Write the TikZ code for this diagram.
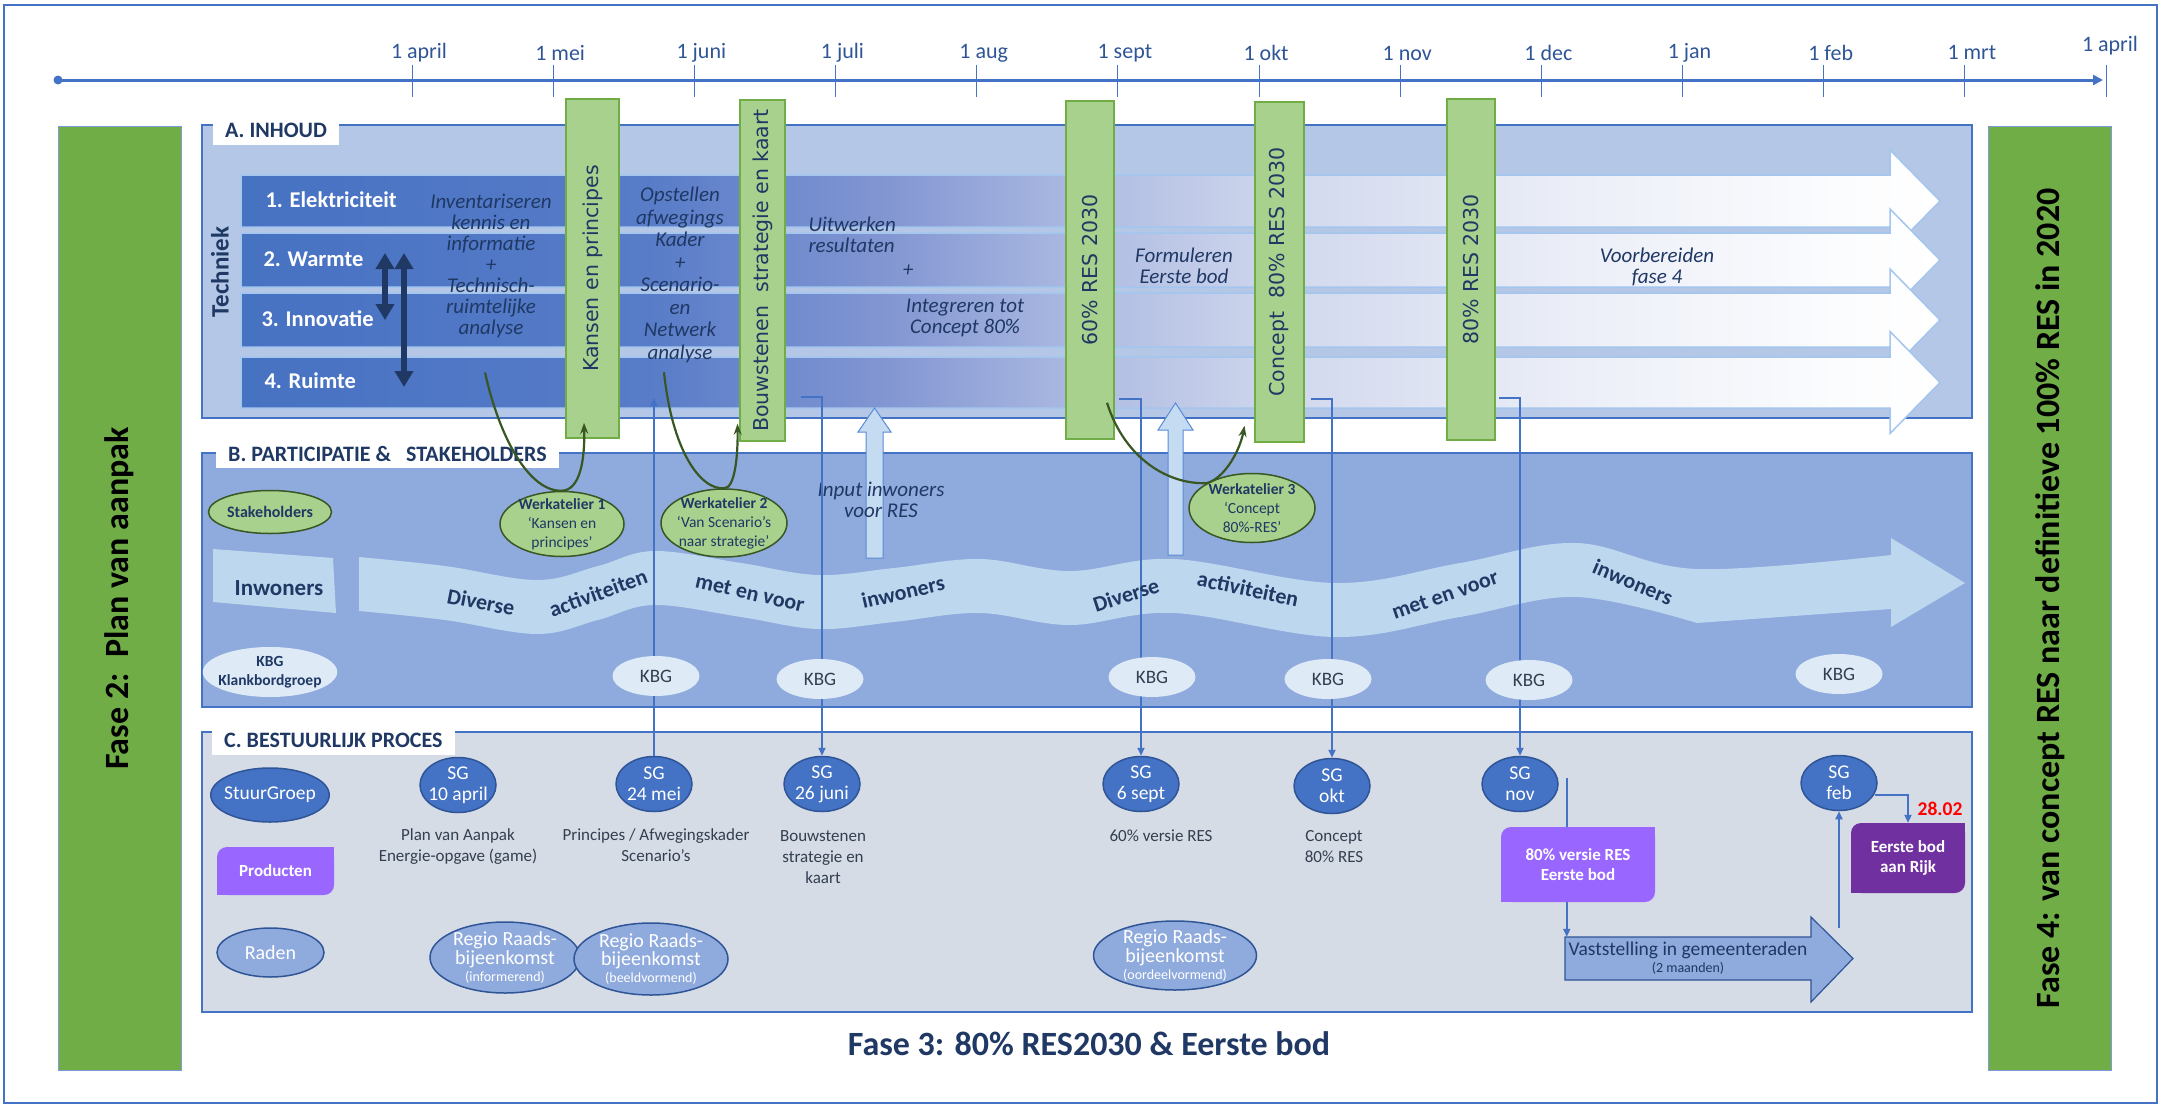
\documentclass[tikz,border=0pt]{standalone}
\usepackage{fontspec}
\setmainfont{Carlito}
\newfontfamily\verdana{DejaVu Sans}
\usetikzlibrary{positioning,shapes.geometric,arrows.meta,calc}

\definecolor{frameblue}{HTML}{4472C4}
\definecolor{edgeblue}{HTML}{2F5597}
\definecolor{navy}{HTML}{1F3864}
\definecolor{inhoudfill}{HTML}{B4C7E7}
\definecolor{partfill}{HTML}{8FAADC}
\definecolor{procfill}{HTML}{D6DCE5}
\definecolor{fasegreen}{HTML}{70AD47}
\definecolor{lightgreen}{HTML}{A9D18E}
\definecolor{darkgreen}{HTML}{385723}
\definecolor{wavefill}{HTML}{BDD7EE}
\definecolor{kbgfill}{HTML}{DEEBF7}
\definecolor{lilac}{HTML}{9966FF}
\definecolor{deeppurple}{HTML}{7030A0}
\definecolor{slate}{HTML}{333F50}
\definecolor{rowedge}{HTML}{A4C6EE}
\definecolor{rowA}{HTML}{4672C2}
\definecolor{rowB}{HTML}{587CC8}
\definecolor{rowC}{HTML}{8296D2}
\definecolor{rowD}{HTML}{AFBCE2}
\definecolor{rowE}{HTML}{D2D9EE}
\definecolor{rowF}{HTML}{EBEEF7}
\definecolor{rowG}{HTML}{FBFCFE}
\definecolor{hollowedge}{HTML}{5B8BD6}
\definecolor{hollowfill}{HTML}{C5DBF2}

\pgfdeclarehorizontalshading{rowshade}{100bp}{color(0bp)=(rowA); color(25bp)=(rowA); color(37bp)=(rowB); color(44bp)=(rowC); color(50bp)=(rowD); color(56bp)=(rowE); color(64bp)=(rowF); color(72bp)=(rowG); color(75bp)=(white); color(100bp)=(white)}

\begin{document}
\begin{tikzpicture}[x=1pt, y=-1pt,
    secbox/.style={draw=frameblue, line width=1.5},
    seclabel/.style={fill=white, text=navy, font=\fontsize{22}{26}\selectfont\bfseries, inner xsep=12pt, inner ysep=3pt, minimum height=29pt, anchor=north west},
    fasebar/.style={fill=fasegreen, draw=frameblue!70, line width=1, font=\fontsize{34}{40}\selectfont\bfseries, rotate=90, minimum width=944pt, minimum height=123pt},
    monthlabel/.style={text=edgeblue, font=\fontsize{22}{24}\selectfont},
    tick/.style={draw=frameblue, line width=0.9},
    rowbar/.style={shading=rowshade, draw=rowedge, line width=1.5},
    rowlabel/.style={text=white, font=\fontsize{22.5}{24}\selectfont\bfseries, anchor=west},
    dblarrow/.style={draw=navy, line width=5.5, {Triangle[width=18pt,length=16pt]}-{Triangle[width=18pt,length=16pt]}},
    italnote/.style={text=navy, font=\fontsize{21}{21}\selectfont\itshape, align=center},
    resbar/.style={fill=lightgreen, draw=fasegreen, line width=1.5, text=navy, font=\verdana\fontsize{20.5}{24}\selectfont, rotate=90, inner sep=0pt},
    greenoval/.style={ellipse, fill=lightgreen, draw=darkgreen, line width=1.5, text=navy, align=center, font=\fontsize{15.5}{19}\selectfont, inner sep=-8pt},
    kbgoval/.style={ellipse, fill=kbgfill, text=slate, font=\fontsize{19}{21}\selectfont, minimum width=87pt, minimum height=40pt, inner sep=0pt},
    wavetext/.style={text=navy, font=\fontsize{22}{24}\selectfont\bfseries},
    hollow/.style={fill=hollowfill, draw=hollowedge, line width=1},
    sgoval/.style={ellipse, fill=frameblue, draw=edgeblue, line width=1.5, text=white, font=\fontsize{19.5}{21}\selectfont, align=center, minimum width=76pt, minimum height=55pt, inner sep=-4pt},
    desc/.style={text=slate, font=\fontsize{17}{21}\selectfont, align=center},
    raadoval/.style={ellipse, fill=partfill, draw=edgeblue, line width=1.5, text=white, font=\fontsize{20}{17}\selectfont, align=center, inner sep=-3pt},
    prodbox/.style={fill=#1, rounded corners=10pt, text=white, font=\fontsize{17}{20}\selectfont\bfseries, align=center, inner sep=0pt},
    conn/.style={draw=frameblue, line width=1.8},
    toarrow/.style={-{Triangle[length=8pt,width=7pt]}},
    curve/.style={draw=darkgreen, line width=2.2, -{Stealth[length=11pt,width=8pt]}},
  ]
  \useasboundingbox (0,0) rectangle (2170,1108);
  \draw[frameblue, line width=2] (4,5) rectangle (2157,1103);

  % tijdlijn
  \coordinate (tstart) at (58,80);
  \coordinate (tend) at (2103,80);
  \draw[frameblue, line width=3, -{Triangle[length=10pt,width=10pt]}] (tstart) -- (tend);
  \fill[frameblue] (tstart) circle (4.5pt);
  \foreach \mlabel [count=\mnum from 0] in {1 april,1 mei,1 juni,1 juli,1 aug,1 sept,1 okt,1 nov,1 dec,1 jan,1 feb,1 mrt}{
    \draw[tick] (412+\mnum*141.17,65) -- (412+\mnum*141.17,97);
    \node[monthlabel] (mon\mnum) at (419+\mnum*141.17,53) {\mlabel};
  }
  \draw[tick] (2106,65) -- (2106,97);
  \node[monthlabel] (mon12) at (2110,46) {1 april};

  % fases links en rechts
  \node[fasebar] (fase2) at (119.5,598.5) {Fase 2:\ \ Plan van aanpak};
  \node[fasebar] (fase4) at (2050,598.5) {Fase 4: van concept RES naar definitieve 100\% RES in 2020};

  % A. inhoud
  \filldraw[secbox, fill=inhoudfill] (202,125) rectangle (1972,418);
  \node[seclabel] (labA) at (213,116) {A. INHOUD};
  \foreach \rowtop/\rowbot in {175/227,233/287,293/347,357/408}{
    \pgfmathsetmacro\rowmid{(\rowtop+\rowbot)/2}
    \shadedraw[rowbar] (241,\rowtop) -- (1890,\rowtop) -- (1890,\rowmid-51) -- (1940,\rowmid)
      -- (1890,\rowmid+51) -- (1890,\rowbot) -- (241,\rowbot) -- cycle;
  }
  \node[rowlabel] (elek) at (262,200) {1. Elektriciteit};
  \node[rowlabel] (warm) at (260,259) {2. Warmte};
  \node[rowlabel] (inno) at (258,319) {3. Innovatie};
  \node[rowlabel] (ruim) at (261,381) {4. Ruimte};
  \node[text=navy, font=\fontsize{25}{28}\selectfont\bfseries, rotate=90] (techniek) at (220,272) {Techniek};
  \coordinate (dblAtop) at (385,253);
  \coordinate (dblAbot) at (385,320);
  \coordinate (dblBtop) at (404,253);
  \coordinate (dblBbot) at (404,387);
  \draw[dblarrow] (dblAtop) -- (dblAbot);
  \draw[dblarrow] (dblBtop) -- (dblBbot);

  \node[italnote] (inv) at (491,266) {Inventariseren\\kennis en\\informatie\\+\\Technisch-\\ruimtelijke\\analyse};
  \node[italnote, font=\fontsize{21}{22.5}\selectfont\itshape] (opst) at (680,275) {Opstellen\\afwegings\\Kader\\+\\Scenario-\\en\\Netwerk\\analyse};
  \node[italnote, anchor=west, align=left] (uitw) at (805,235) {Uitwerken\\resultaten};
  \node[italnote] (plusC) at (908,271) {+};
  \node[italnote] (integ) at (965,318) {Integreren tot\\Concept 80\%};
  \node[italnote] (form) at (1184,266) {Formuleren\\Eerste bod};
  \node[italnote] (voorb) at (1657,267) {Voorbereiden\\fase 4};

  \node[resbar, minimum width=339pt, minimum height=53pt] (kansen) at (592.5,268.5) {Kansen en principes};
  \node[resbar, minimum width=341pt, minimum height=45pt] (bouw) at (762.5,270.5) {Bouwstenen\ \ strategie en kaart};
  \node[resbar, minimum width=338pt, minimum height=48pt] (bar60) at (1090,270) {60\% RES 2030};
  \node[resbar, minimum width=340pt, minimum height=49pt] (barcon) at (1279.5,272) {Concept\ \ 80\% RES 2030};
  \node[resbar, minimum width=341pt, minimum height=48pt] (bar80) at (1471,269.5) {80\% RES 2030};

  % B. participatie
  \filldraw[secbox, fill=partfill] (202,453) rectangle (1972,707);
  \node[seclabel] (labB) at (216,439) {B. PARTICIPATIE \&\ \ \ STAKEHOLDERS};
  \fill[wavefill] (213,549) -- (333,558) -- (336,613) -- (213,602) -- cycle;
  \node[text=navy, font=\fontsize{23}{25}\selectfont\bfseries] (inwlabel) at (279,588) {Inwoners};
  \fill[wavefill] plot[smooth, tension=0.6] coordinates {(359,557) (445,566) (537,580) (598,566) (654,551) (741,563) (818,575) (894,568) (980,559) (1070,571) (1174,559) (1335,583) (1460,563) (1576,543) (1697,569) (1891,555)}
    -- (1891,538) -- (1965,583) -- (1891,627) -- (1891,609)
    -- plot[smooth, tension=0.6] coordinates {(1697,623) (1576,597) (1460,617) (1335,637) (1174,613) (1070,625) (980,613) (894,622) (818,629) (741,617) (654,605) (598,620) (537,634) (445,620) (359,611)} -- cycle;
  \node[greenoval, font=\fontsize{16}{19}\selectfont\bfseries, minimum width=123pt, minimum height=43pt, inner sep=0pt] (stake) at (270,512) {Stakeholders};
  \node[kbgoval, text=navy, font=\fontsize{15.5}{19}\selectfont\bfseries, align=center, minimum width=127pt, minimum height=50pt, inner sep=-4pt] (kbgleg) at (270,672) {KBG\\Klankbordgroep};
  \node[greenoval, minimum width=124pt, minimum height=65pt] (w1) at (562,524) {{\bfseries Werkatelier 1}\\`Kansen en\\principes'};
  \node[greenoval, minimum width=126pt, minimum height=68pt] (w2) at (724,523) {{\bfseries Werkatelier 2}\\`Van Scenario's\\naar strategie'};
  \node[greenoval, minimum width=126pt, minimum height=69pt] (w3) at (1252,508) {{\bfseries Werkatelier 3}\\`Concept\\80\%-RES'};
  \filldraw[hollow] (866,558) -- (866,432) -- (858,432) -- (874.5,408) -- (891,432) -- (883,432) -- (883,558) -- cycle;
  \filldraw[hollow] (1168,555) -- (1168,430) -- (1158,430) -- (1175.5,403) -- (1193,430) -- (1183,430) -- (1183,555) -- cycle;
  \node[italnote] (inputtxt) at (881,500) {Input inwoners\\voor RES};

  % C. bestuurlijk proces
  \filldraw[secbox, fill=procfill] (202,732) rectangle (1972,1012);
  \node[seclabel] (labC) at (212,726) {C. BESTUURLIJK PROCES};
  \node[sgoval, minimum width=114pt, minimum height=54pt] (stuur) at (270,795) {StuurGroep};
  \node[prodbox=lilac, minimum width=117pt, minimum height=48pt] (prodleg) at (275.5,871) {Producten};
  \fill[lilac] (prodleg.north east) rectangle ++(-12,12);
  \fill[lilac] (prodleg.south west) rectangle ++(12,-12);
  \node[raadoval, minimum width=107pt, minimum height=49pt] (raden) at (270.5,952.5) {Raden};

  \node[sgoval] (sg10) at (458,785) {SG\\10 april};
  \node[sgoval] (sg24) at (654,784) {SG\\24 mei};
  \node[sgoval] (sg26) at (822,784) {SG\\26 juni};
  \node[sgoval] (sg6) at (1141,784) {SG\\6 sept};
  \node[sgoval] (sgokt) at (1332,786) {SG\\okt};
  \node[sgoval] (sgnov) at (1520,784) {SG\\nov};
  \node[sgoval] (sgfeb) at (1839,783) {SG\\feb};

  \node[desc] (d10) at (458,847) {Plan van Aanpak\\Energie-opgave (game)};
  \node[desc] (d24) at (656,845) {Principes / Afwegingskader\\Scenario's};
  \node[desc] (d26) at (823,857) {Bouwstenen\\strategie en\\kaart};
  \node[desc] (d6) at (1161,836) {60\% versie RES};
  \node[desc] (dokt) at (1334,847) {Concept\\80\% RES};

  \node[raadoval, minimum width=150pt, minimum height=71pt] (raad1) at (505,957.5) {Regio Raads-\\bijeenkomst\\{\fontsize{14}{15}\selectfont(informerend)}};
  \node[raadoval, minimum width=154pt, minimum height=72pt] (raad2) at (651,959) {Regio Raads-\\bijeenkomst\\{\fontsize{14}{15}\selectfont(beeldvormend)}};
  \node[raadoval, minimum width=163pt, minimum height=69pt] (raad3) at (1175,955.5) {Regio Raads-\\bijeenkomst\\{\fontsize{14}{15}\selectfont(oordeelvormend)}};

  \node[prodbox=lilac, minimum width=154pt, minimum height=75pt] (prod80) at (1578,864.5) {80\% versie RES\\Eerste bod};
  \fill[lilac] (prod80.north east) rectangle ++(-12,12);
  \fill[lilac] (prod80.south west) rectangle ++(12,-12);
  \node[prodbox=deeppurple, minimum width=114pt, minimum height=70pt] (rijk) at (1908,858) {Eerste bod\\aan Rijk};
  \fill[deeppurple] (rijk.north east) rectangle ++(-12,12);
  \fill[deeppurple] (rijk.south west) rectangle ++(12,-12);
  \node[text=red, font=\fontsize{19.5}{22}\selectfont\bfseries] (deadline) at (1940,809) {28.02};

  \filldraw[fill=partfill, draw=edgeblue, line width=1.2] (1565,937) -- (1811,937) -- (1811,917) -- (1853,958.5)
    -- (1811,1002) -- (1811,980) -- (1565,980) -- cycle;
  \node[text=navy, font=\fontsize{19.5}{17}\selectfont, align=center, minimum width=246pt, minimum height=43pt, inner sep=0pt] (vast) at (1688,958.5) {Vaststelling in gemeenteraden\\{\fontsize{14}{15}\selectfont(2 maanden)}};

  % verbindingen
  \coordinate (inhoudhit) at (654,398);
  \draw[conn, toarrow] (sg24.north) -- (inhoudhit);
  \draw[conn, toarrow] ($(bouw.south west)+(15,-45)$) -| (sg26.north);
  \draw[conn, toarrow] ($(bar60.south west)+(4,-41)$) -| (sg6.north);
  \draw[conn, toarrow] ($(barcon.south west)+(6,-44)$) -| (sgokt.north);
  \draw[conn, toarrow] ($(bar80.south west)+(3,-43)$) -| (sgnov.north);
  \coordinate (novdrop) at ($(sgnov.east)+(8,-6)$);
  \draw[conn] (novdrop) -- (novdrop |- prod80.north);
  \draw[conn, toarrow] (novdrop |- prod80.south) -- (novdrop |- vast.north);
  \coordinate (febrise) at (sgfeb.south |- vast.north);
  \draw[conn, toarrow] ($(febrise)+(0,-9)$) -- (sgfeb.south);
  \draw[conn, toarrow] ($(sgfeb.east)+(-3,12)$) -| (rijk.north);

  \draw[curve] ($(inv.south)+(-6,31)$) .. controls (500,440) and (530,492) .. (w1.north)
    .. controls (580,490) and (585,460) .. ($(kansen.west)+(-8.5,-16)$);
  \draw[curve] ($(opst.south)+(-16,6)$) .. controls (672,450) and (700,490) .. (w2.north)
    .. controls (735,489) and (738,455) .. ($(bouw.west)+(-25,-18)$);
  \draw[curve] ($(bar60.west)+(17,-37)$) .. controls (1125,460) and (1170,485) .. (w3.north west)
    .. controls (1225,478) and (1240,450) .. ($(barcon.west)+(-35,-17)$);

  % klankbordgroep
  \node[kbgoval] (kbg1) at (656,676) {KBG};
  \node[kbgoval] (kbg2) at (820,679) {KBG};
  \node[kbgoval] (kbg3) at (1152,677) {KBG};
  \node[kbgoval] (kbg4) at (1328,679) {KBG};
  \node[kbgoval] (kbg5) at (1529,680) {KBG};
  \node[kbgoval] (kbg6) at (1839,674) {KBG};

  % golf tekst
  \node[wavetext, rotate=-11] (wdivA) at (481,602) {Diverse};
  \node[wavetext, rotate=20] (wactA) at (598,593) {activiteiten};
  \node[wavetext, rotate=-13] (wmetA) at (750,593) {met en voor};
  \node[wavetext, rotate=13] (winwA) at (903,592) {inwoners};
  \node[wavetext, rotate=18] (wdivB) at (1126,595) {Diverse};
  \node[wavetext, rotate=-12] (wactB) at (1248,589) {activiteiten};
  \node[wavetext, rotate=19] (wmetB) at (1445,595) {met en voor};
  \node[wavetext, rotate=-23] (winwB) at (1633,582) {inwoners};

  \node[text=navy, font=\fontsize{34}{40}\selectfont\bfseries] (fase3) at (1089,1044) {Fase 3: 80\% RES2030 \& Eerste bod};
\end{tikzpicture}
\end{document}
